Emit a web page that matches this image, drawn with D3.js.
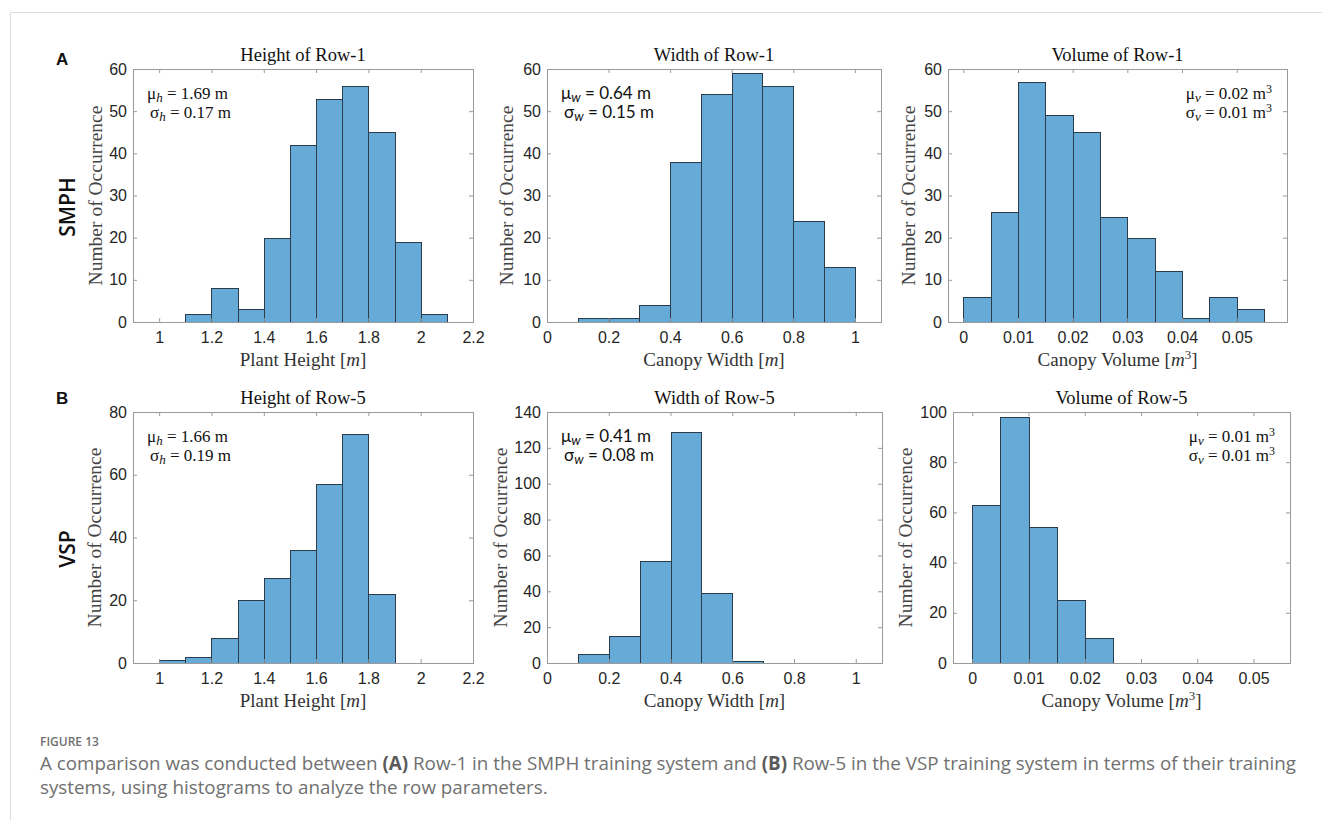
<!DOCTYPE html>
<html>
<head>
<meta charset="utf-8">
<script src="https://cdn.jsdelivr.net/npm/d3@7"></script>
<style>
  body { margin: 0; background: #fff; }
  svg { display: block; }
</style>
</head>
<body>
<svg id="fig" width="1322" height="820"></svg>
<script>
`use strict`;

// ---- values ----
// (A) SMPH, Row-1
const heightEdgesA  = [1.1, 1.2, 1.3, 1.4, 1.5, 1.6, 1.7, 1.8, 1.9, 2.0, 2.1];
const heightCountsA = [2, 8, 3, 20, 42, 53, 56, 45, 19, 2];
const widthEdgesA   = [0.1, 0.2, 0.3, 0.4, 0.5, 0.6, 0.7, 0.8, 0.9, 1.0];
const widthCountsA  = [1, 1, 4, 38, 54, 59, 56, 24, 13];
const volumeEdgesA  = [0, 0.005, 0.01, 0.015, 0.02, 0.025, 0.03, 0.035, 0.04, 0.045, 0.05, 0.055];
const volumeCountsA = [6, 26, 57, 49, 45, 25, 20, 12, 1, 6, 3];

// (B) VSP, Row-5
const heightEdgesB  = [1.0, 1.1, 1.2, 1.3, 1.4, 1.5, 1.6, 1.7, 1.8, 1.9];
const heightCountsB = [1, 2, 8, 20, 27, 36, 57, 73, 22];
const widthEdgesB   = [0.1, 0.2, 0.3, 0.4, 0.5, 0.6, 0.7];
const widthCountsB  = [5, 15, 57, 129, 39, 1];
const volumeEdgesB  = [0, 0.005, 0.01, 0.015, 0.02, 0.025];
const volumeCountsB = [63, 98, 54, 25, 10];

// tick labels
const heightTicks = [1, 1.2, 1.4, 1.6, 1.8, 2, 2.2];
const widthTicks  = [0, 0.2, 0.4, 0.6, 0.8, 1];
const volumeTicks = [0, 0.01, 0.02, 0.03, 0.04, 0.05];
const countTicksA       = [0, 10, 20, 30, 40, 50, 60];
const heightCountTicksB = [0, 20, 40, 60, 80];
const widthCountTicksB  = [0, 20, 40, 60, 80, 100, 120, 140];
const volumeCountTicksB = [0, 20, 40, 60, 80, 100];

// texts
const titles  = [`Height of Row-1`, `Width of Row-1`, `Volume of Row-1`, `Height of Row-5`, `Width of Row-5`, `Volume of Row-5`];
const xLabels = [[`Plant Height `, ``], [`Canopy Width `, ``], [`Canopy Volume `, `3`]];
// [sub, mean, sd, unit sup]
const statsText = [
  [`h`, `1.69`, `0.17`, ``], [`w`, `0.64`, `0.15`, ``], [`v`, `0.02`, `0.01`, `3`],
  [`h`, `1.66`, `0.19`, ``], [`w`, `0.41`, `0.08`, ``], [`v`, `0.01`, `0.01`, `3`]
];

// ---- layout ----
const rows = [{top: 69, bottom: 322}, {top: 412, bottom: 663}];

const panels = [
  {edges: heightEdgesA, counts: heightCountsA, xt: heightTicks, yt: countTicksA,       x0: 133, x1: 473, dom: [0.9, 2.2],        row: 0, yl: 101.5, lab: 0, align: `start`, font: `Liberation Serif`},
  {edges: widthEdgesA,  counts: widthCountsA,  xt: widthTicks,  yt: countTicksA,       x0: 547, x1: 881, dom: [0, 1.085],        row: 0, yl: 513,   lab: 1, align: `start`, font: `Lato`},
  {edges: volumeEdgesA, counts: volumeCountsA, xt: volumeTicks, yt: countTicksA,       x0: 948, x1: 1287, dom: [-0.0028, 0.0592], row: 0, yl: 915,  lab: 2, align: `end`,   font: `Liberation Serif`},
  {edges: heightEdgesB, counts: heightCountsB, xt: heightTicks, yt: heightCountTicksB, x0: 133, x1: 473, dom: [0.9, 2.2],        row: 1, yl: 101,   lab: 0, align: `start`, font: `Liberation Serif`},
  {edges: widthEdgesB,  counts: widthCountsB,  xt: widthTicks,  yt: widthCountTicksB,  x0: 547, x1: 882, dom: [0, 1.085],        row: 1, yl: 507,   lab: 1, align: `start`, font: `Lato`},
  {edges: volumeEdgesB, counts: volumeCountsB, xt: volumeTicks, yt: volumeCountTicksB, x0: 953, x1: 1290, dom: [-0.00343, 0.0565], row: 1, yl: 912, lab: 2, align: `end`,   font: `Liberation Serif`}
];

const BAR = `#66aad7`, EDGE = `#2c3b4a`, BOX = `#9a9a9a`, TXT = `#262626`;

const svg = d3.select(`#fig`);

svg.append(`rect`).attr(`width`, 1322).attr(`height`, 820).attr(`fill`, `#fff`);

// page frame
svg.append(`path`)
  .attr(`d`, `M10.5,820 V12.5 H1322`)
  .attr(`fill`, `none`)
  .attr(`stroke`, `#dcdcdc`)
  .attr(`stroke-width`, 1);

let fmt = d3.format(`~g`);

panels.forEach((p, i) => {

  let r = rows[p.row];

  let x = d3.scaleLinear().domain(p.dom).range([p.x0, p.x1]);

  let y = d3.scaleLinear().domain([0, d3.max(p.yt)]).range([r.bottom, r.top]);

  let g = svg.append(`g`).attr(`class`, `panel`);

  let bins = p.counts.map((n, k) => ({a: p.edges[k], b: p.edges[k + 1], n: n}));

  g.selectAll(`rect.bar`).data(bins)
    .enter()
    .append(`rect`)
    .attr(`class`, `bar`)
    .attr(`x`, d => Math.round(x(d.a)) + .5)
    .attr(`y`, d => Math.round(y(d.n)) + .5)
    .attr(`width`, d => Math.round(x(d.b)) - Math.round(x(d.a)))
    .attr(`height`, d => Math.round(y(0)) - Math.round(y(d.n)))
    .attr(`fill`, BAR)
    .attr(`stroke`, EDGE)
    .attr(`stroke-width`, 1);

  // axes, ticks inward on all four sides
  let bottom = g.append(`g`).attr(`transform`, `translate(0,${r.bottom})`)
    .call(d3.axisBottom(x).tickValues(p.xt).tickFormat(fmt).tickSizeInner(-4).tickSizeOuter(0).tickPadding(10));

  let top = g.append(`g`).attr(`transform`, `translate(0,${r.top})`)
    .call(d3.axisTop(x).tickValues(p.xt).tickFormat(``).tickSizeInner(-4).tickSizeOuter(0));

  let left = g.append(`g`).attr(`transform`, `translate(${p.x0},0)`)
    .call(d3.axisLeft(y).tickValues(p.yt).tickFormat(fmt).tickSizeInner(-4).tickSizeOuter(0).tickPadding(6));

  let right = g.append(`g`).attr(`transform`, `translate(${p.x1},0)`)
    .call(d3.axisRight(y).tickValues(p.yt).tickFormat(``).tickSizeInner(-4).tickSizeOuter(0));

  [bottom, top, left, right].forEach(a => {
    a.select(`.domain`).remove();
    a.selectAll(`line`).attr(`stroke`, BOX);
    a.selectAll(`text`)
      .attr(`fill`, TXT)
      .style(`font-family`, `Liberation Sans, Arial, sans-serif`)
      .style(`font-size`, `16px`);
  });

  g.append(`rect`)
    .attr(`x`, p.x0 + .5)
    .attr(`y`, r.top + .5)
    .attr(`width`, p.x1 - p.x0)
    .attr(`height`, r.bottom - r.top)
    .attr(`fill`, `none`)
    .attr(`stroke`, BOX)
    .attr(`stroke-width`, 1);

  // title
  g.append(`text`)
    .attr(`x`, (p.x0 + p.x1) / 2)
    .attr(`y`, r.top - 8.5)
    .attr(`text-anchor`, `middle`)
    .style(`font-family`, `Liberation Serif, serif`)
    .style(`font-size`, `18.5px`)
    .attr(`fill`, `#111`)
    .text(titles[i]);

  // x label with italic m
  let xl = g.append(`text`)
    .attr(`x`, (p.x0 + p.x1) / 2)
    .attr(`y`, r.bottom + 43.5)
    .attr(`text-anchor`, `middle`)
    .style(`font-family`, `Liberation Serif, serif`)
    .style(`font-size`, `19px`)
    .attr(`fill`, `#333`);

  xl.append(`tspan`).text(xLabels[p.lab][0] + `[`);
  xl.append(`tspan`).attr(`font-style`, `italic`).text(`m`);
  if (xLabels[p.lab][1]) xl.append(`tspan`).attr(`dy`, -7).style(`font-size`, `13px`).text(xLabels[p.lab][1]);
  xl.append(`tspan`).attr(`dy`, xLabels[p.lab][1] ? 7 : 0).text(`]`);

  // y label
  g.append(`text`)
    .attr(`transform`, `translate(${p.yl},${(r.top + r.bottom) / 2}) rotate(-90)`)
    .attr(`text-anchor`, `middle`)
    .style(`font-family`, `Liberation Serif, serif`)
    .style(`font-size`, `19.5px`)
    .attr(`fill`, `#444`)
    .text(`Number of Occurrence`);

  // mean / sd note
  let s = statsText[i];
  let ax = p.align === `start` ? p.x0 + 14 : p.x1 - 15;

  [[`μ`, s[1], 29.5, 0], [`σ`, s[2], 48.5, 3]].forEach(L => {

    let t = g.append(`text`)
      .attr(`x`, p.align === `start` ? ax + L[3] : ax)
      .attr(`y`, r.top + L[2])
      .attr(`text-anchor`, p.align)
      .style(`font-family`, p.font)
      .style(`font-size`, `17px`)
      .attr(`fill`, `#111`);

    t.append(`tspan`).text(L[0]);
    t.append(`tspan`).attr(`dy`, 3).attr(`font-style`, `italic`).style(`font-size`, `13px`).text(s[0]);
    t.append(`tspan`).attr(`dy`, -3).text(` = ${L[1]} m`);
    if (s[3]) t.append(`tspan`).attr(`dy`, -6).style(`font-size`, `12px`).text(s[3]);
  });
});

// panel letters and row names
[[`A`, 65], [`B`, 404]].forEach(d => {
  svg.append(`text`)
    .attr(`x`, 56)
    .attr(`y`, d[1])
    .style(`font-family`, `Liberation Sans, Arial, sans-serif`)
    .style(`font-weight`, `bold`)
    .style(`font-size`, `17px`)
    .attr(`fill`, `#111`)
    .text(d[0]);
});

[[`SMPH`, 207], [`VSP`, 549]].forEach(d => {
  svg.append(`text`)
    .attr(`transform`, `translate(75,${d[1]}) rotate(-90)`)
    .attr(`text-anchor`, `middle`)
    .style(`font-family`, `Open Sans, sans-serif`)
    .style(`font-weight`, 600)
    .style(`font-size`, `21px`)
    .attr(`fill`, `#111`)
    .text(d[0]);
});

// caption
svg.append(`text`)
  .attr(`x`, 40).attr(`y`, 746)
  .style(`font-family`, `Open Sans, sans-serif`)
  .style(`font-weight`, 600)
  .style(`font-size`, `12px`)
  .attr(`fill`, `#6f6f6f`)
  .text(`FIGURE 13`);

let cap1 = svg.append(`text`)
  .attr(`x`, 40).attr(`y`, 770)
  .style(`font-family`, `Open Sans, sans-serif`)
  .style(`font-size`, `18.8px`)
  .attr(`fill`, `#707070`);

cap1.append(`tspan`).text(`A comparison was conducted between `);
cap1.append(`tspan`).style(`font-weight`, 700).attr(`fill`, `#5a5a5a`).text(`(A)`);
cap1.append(`tspan`).text(` Row-1 in the SMPH training system and `);
cap1.append(`tspan`).style(`font-weight`, 700).attr(`fill`, `#5a5a5a`).text(`(B)`);
cap1.append(`tspan`).text(` Row-5 in the VSP training system in terms of their training`);

svg.append(`text`)
  .attr(`x`, 40).attr(`y`, 794)
  .style(`font-family`, `Open Sans, sans-serif`)
  .style(`font-size`, `18.8px`)
  .attr(`fill`, `#707070`)
  .text(`systems, using histograms to analyze the row parameters.`);
</script>
</body>
</html>
